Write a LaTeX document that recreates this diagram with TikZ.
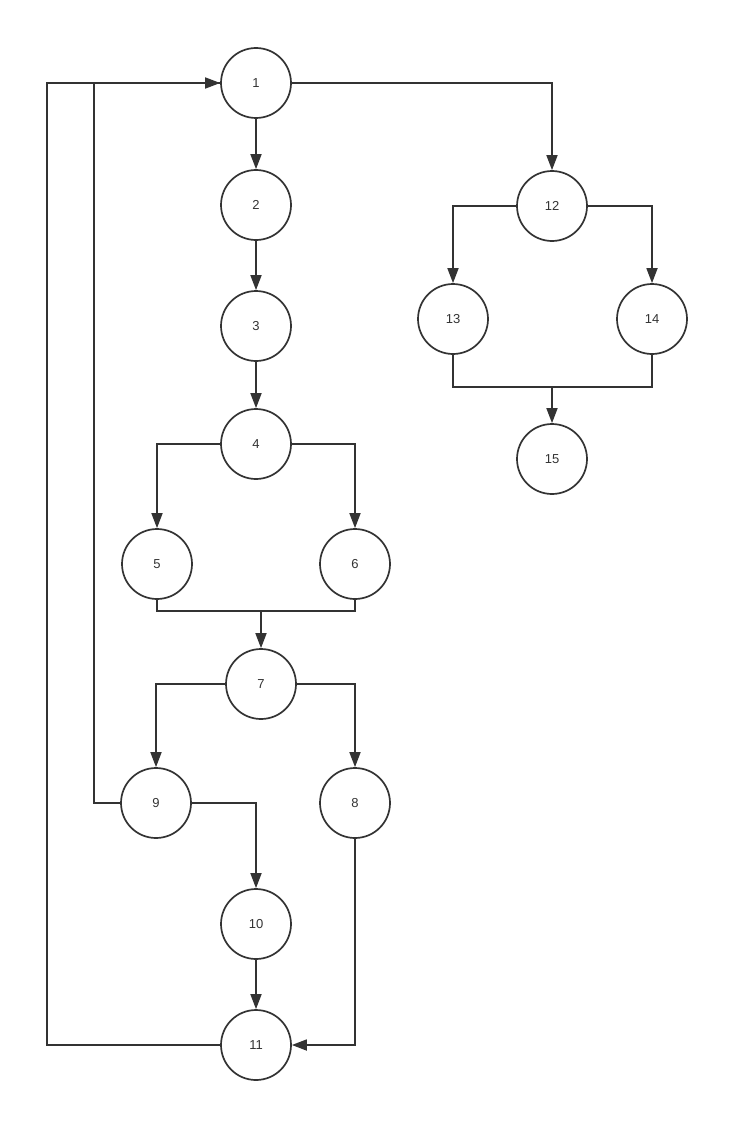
\documentclass[tikz,border=0pt]{standalone}
\usepackage{fontspec}
\setmainfont{Liberation Sans}
\usetikzlibrary{arrows.meta,positioning}
\definecolor{ink}{HTML}{333333}
\tikzset{
  vtx/.style={circle, draw=ink, line width=1.7pt, minimum size=70pt, inner sep=0pt, text=ink, font=\fontsize{13}{15}\selectfont},
  link/.style={-{Triangle[length=15pt, width=11pt]}, draw=ink, line width=1.7pt},
  wire/.style={draw=ink, line width=1.7pt},
}
\begin{document}
\begin{tikzpicture}[x=1pt, y=-1pt]
  \useasboundingbox (0,0) rectangle (748,1142);
  % left column
  \node[vtx] (n1) at (256,83) {1};
  \node[vtx] (n2) at (256,205) {2};
  \node[vtx] (n3) at (256,326) {3};
  \node[vtx] (n4) at (256,444) {4};
  \node[vtx] (n5) at (157,564) {5};
  \node[vtx] (n6) at (355,564) {6};
  \node[vtx] (n7) at (261,684) {7};
  \node[vtx] (n8) at (355,803) {8};
  \node[vtx] (n9) at (156,803) {9};
  \node[vtx] (n10) at (256,924) {10};
  \node[vtx] (n11) at (256,1045) {11};
  % right branch
  \node[vtx] (n12) at (552,206) {12};
  \node[vtx] (n13) at (453,319) {13};
  \node[vtx] (n14) at (652,319) {14};
  \node[vtx] (n15) at (552,459) {15};
  \coordinate (j56) at (261,611);
  \coordinate (j1314) at (552,387);
  % edges
  \draw[link] (n1) -- (n2);
  \draw[link] (n2) -- (n3);
  \draw[link] (n3) -- (n4);
  \draw[link] (n1.east) -| (n12.north);
  \draw[link] (n4.west) -| (n5.north);
  \draw[link] (n4.east) -| (n6.north);
  \draw[wire] (n5.south) |- (j56) -| (n6.south);
  \draw[link] (j56) -- (n7.north);
  \draw[link] (n7.west) -| (n9.north);
  \draw[link] (n7.east) -| (n8.north);
  \draw[link] (n9.east) -| (n10.north);
  \draw[link] (n10) -- (n11);
  \draw[link] (n8.south) |- (n11.east);
  \draw[link] (n9.west) -- ++(-26,0) |- (n1.west);
  \draw[wire] (n11.west) -- ++(-173,0) |- (n1.west);
  \draw[link] (n12.west) -| (n13.north);
  \draw[link] (n12.east) -| (n14.north);
  \draw[wire] (n13.south) |- (j1314) -| (n14.south);
  \draw[link] (j1314) -- (n15.north);
\end{tikzpicture}
\end{document}
